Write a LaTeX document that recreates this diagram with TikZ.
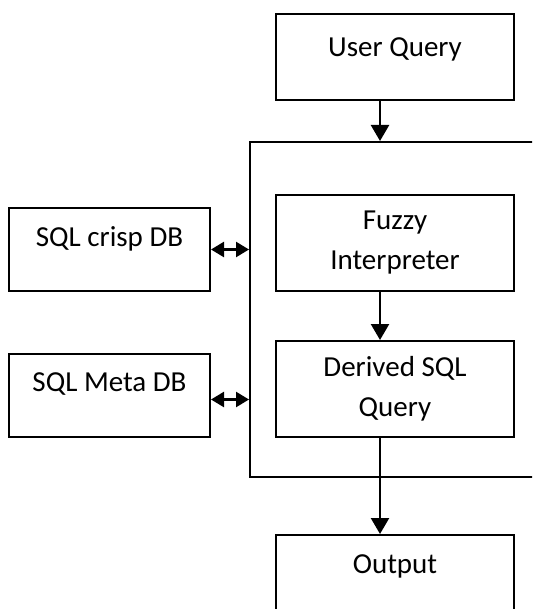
\documentclass[tikz,border=0pt]{standalone}
\usepackage{fontspec}
\setmainfont{Carlito}
\usetikzlibrary{arrows.meta}
\usetikzlibrary{positioning}
\tikzset{box/.style = {draw, line width = 2pt, inner sep = 2pt, align = center, minimum width = 238pt, font = \fontsize{29}{40}\selectfont},
  db/.style = {box, minimum width = 201pt, minimum height = 83pt, text depth = 26pt},
  link/.style = {line width = 2.4pt, -{Triangle[length = 16pt, width = 18pt]}},
  dlink/.style = {line width = 2.4pt, {Triangle[length = 13pt, width = 15pt]}-{Triangle[length = 13pt, width = 15pt]}}}

\begin{document}
\begin{tikzpicture}[x = 1pt, y = -1pt]
    \useasboundingbox (0,0) rectangle (532,609);
    \clip (0,0) rectangle (532,609);
    \node [draw, line width = 2pt, minimum width = 310pt, minimum height = 335pt] (engine) at (405,309.5) {};
    \node [box, minimum height = 86pt, text depth = 20pt] (uq) at (395,57) {User Query};
    \node [box, minimum height = 96pt, below = 93pt of uq] (fuzzy) {Fuzzy\\Interpreter};
    \node [box, minimum height = 96pt, below = 48pt of fuzzy] (derived) {Derived SQL\\Query};
    \node [box, minimum height = 86pt, text depth = 28pt, below = 96pt of derived] (output) {Output};
    \node [db, left = 64pt of fuzzy.south west, anchor = south east] (crisp) {SQL crisp DB};
    \node [db, left = 64pt of derived.south west, anchor = south east] (meta) {SQL Meta DB};
    % paths
    \draw [link] ([xshift = -15pt]uq.south) -- ([xshift = -15pt]uq.south |- engine.north);
    \draw [link] ([xshift = -15pt]fuzzy.south) -- ([xshift = -15pt]derived.north);
    \draw [link] ([xshift = -15pt]derived.south) -- ([xshift = -15pt]output.north);
    \draw [dlink] (crisp.east) -- (crisp.east -| engine.west);
    \draw [dlink] ([yshift = -4pt]meta.east) -- ([yshift = -4pt]meta.east -| engine.west);
\end{tikzpicture}
\end{document}
